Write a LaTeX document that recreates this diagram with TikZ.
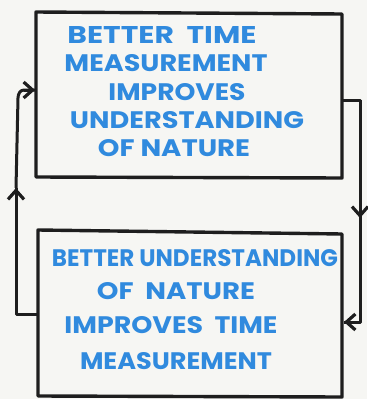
\documentclass[tikz,border=0pt]{standalone}
\usepackage{fontspec}
\setmainfont{Poppins}
\usetikzlibrary{arrows.meta}
\definecolor{ink}{RGB}{30,30,30}
\definecolor{letter}{RGB}{48,138,222}
\definecolor{paper}{RGB}{246,246,243}
\newcommand{\txtline}[2]{\resizebox{#1pt}{17pt}{\textcolor{letter}{\bfseries #2}}}
\tikzset{
  box/.style={draw=ink, line width=3.4pt, line join=round},
  wire/.style={draw=ink, line width=3pt, line join=round},
  tip/.style={-{Straight Barb[length=9pt,width=16pt,line width=3.2pt]}},
  txt/.style={inner sep=0pt, anchor=center}
}
\begin{document}
\begin{tikzpicture}[x=1pt,y=-1pt]
\fill[paper] (0,0) rectangle (367,399);
\useasboundingbox (0,0) rectangle (367,399);
% boxes
\coordinate (A1) at (36,12);
\coordinate (A2) at (342,14);
\coordinate (A3) at (342,178);
\coordinate (A4) at (36,177);
\draw[box] (A1) -- (A2) -- (A3) -- (A4) -- cycle;
\coordinate (B1) at (38,230);
\coordinate (B2) at (342,234);
\coordinate (B3) at (342,397);
\coordinate (B4) at (38,396);
\draw[box] (B1) -- (B2) -- (B3) -- (B4) -- cycle;
% text top
\node[txt] (t1) at (162,35) {\txtline{189}{BETTER\ \ TIME}};
\node[txt] (t2) at (166,63) {\txtline{203}{MEASUREMENT}};
\node[txt] (t3) at (177,92) {\txtline{137}{IMPROVES}};
\node[txt] (t4) at (187,120) {\txtline{234}{UNDERSTANDING}};
\node[txt] (t5) at (174,148) {\txtline{152}{OF NATURE}};
% text bottom
\node[txt] (b1) at (195,258) {\txtline{286}{BETTER UNDERSTANDING}};
\node[txt] (b2) at (176,291) {\txtline{158}{OF\ \ NATURE}};
\node[txt] (b3) at (171,325) {\txtline{213}{IMPROVES\ \ TIME}};
\node[txt] (b4) at (176,361) {\txtline{192}{MEASUREMENT}};
% connectors
\coordinate (r0) at (342,100);
\coordinate (r1) at (360,100);
\coordinate (rm) at (360,218);
\coordinate (r2) at (360,322);
\coordinate (r3) at (344,322);
\draw[wire] (r0) -- (r1) -- (rm);
\draw[wire,tip] (r1) -- (rm);
\draw[wire] (rm) -- (r2) -- (r3);
\draw[wire,tip] (r2) -- (r3);
\coordinate (l0) at (38,314);
\coordinate (l1) at (16,314);
\coordinate (lm) at (16,188);
\coordinate (lc) at (24,90);
\coordinate (l3) at (35,90);
\draw[wire] (l0) -- (l1) -- (lm);
\draw[wire,tip] (l1) -- (lm);
\draw[wire] (lm) -- (18,98) to[out=90,in=180] (lc) -- (l3);
\draw[wire,tip] (lc) -- (l3);
\end{tikzpicture}
\end{document}
